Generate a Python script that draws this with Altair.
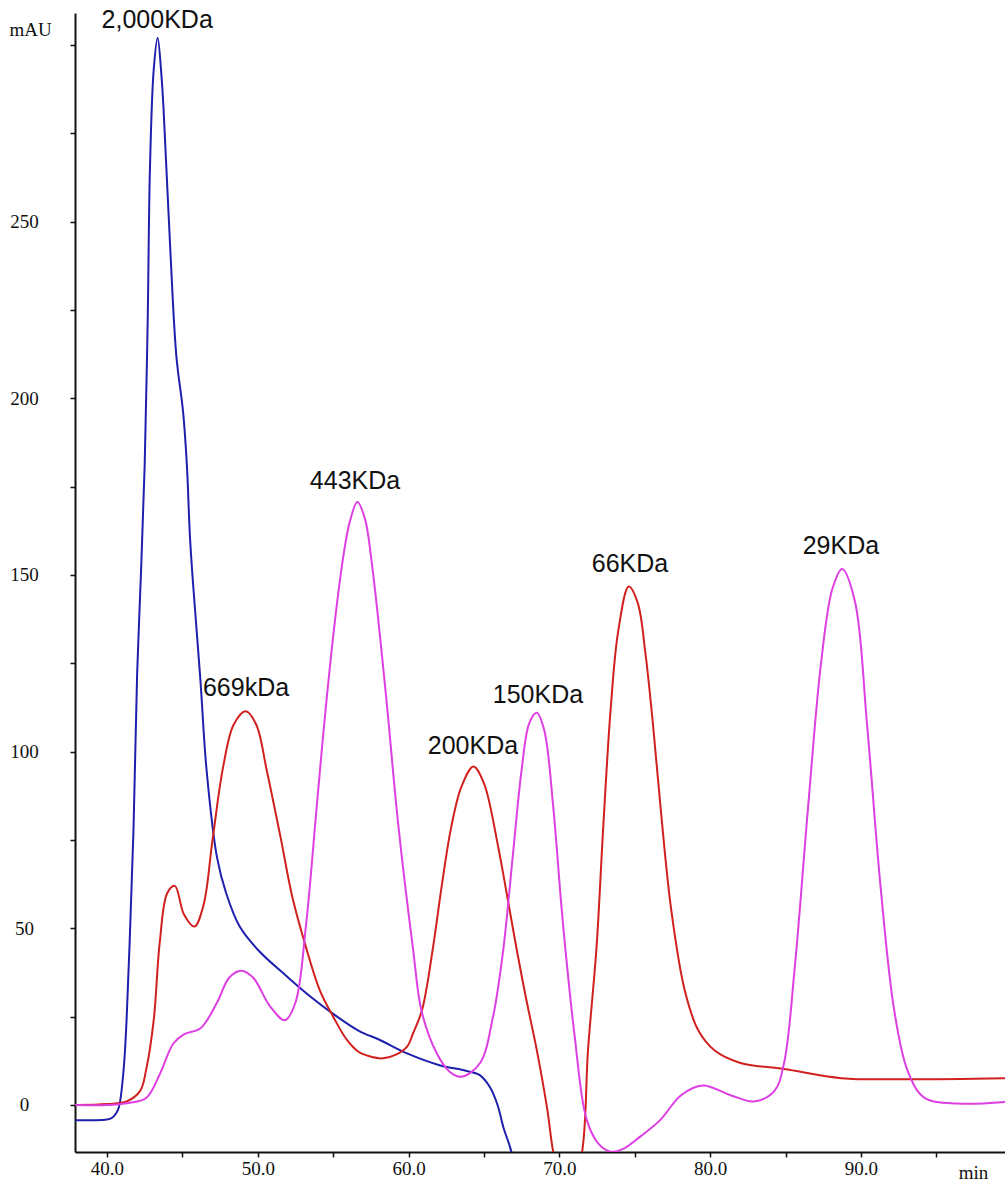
import altair as alt
import pandas as pd

# ---- data ----
blue_t = [37.9, 39.0, 40.0, 40.3, 40.6, 40.8, 41.1, 41.3, 41.5, 41.76, 42.0, 42.25, 42.5, 42.7, 42.85,
          43.1, 43.36, 43.6, 43.75, 44.2, 44.6, 45.05, 45.3, 45.5, 45.7, 46.2, 46.6, 47.3, 47.9, 48.8,
          50.1, 51.9, 53.4, 55.0, 56.7, 58.1, 59.9, 62.1, 63.8, 64.7, 65.4, 65.9, 66.3, 66.8, 67.3]
blue_v = [-4.3, -4.3, -4.1, -3.7, -2.4, -0.5, 9.8, 24, 45.6, 78, 122, 150, 181, 222, 265,
          293, 302, 292, 282, 242, 212, 196, 181, 161, 148, 120, 95, 70, 60, 50.5,
          43.5, 36.5, 31.0, 25.8, 21, 18.4, 14.6, 11.2, 9.7, 8.5, 5, 0, -6.5, -13, -25]

red_t = [37.9, 40.0, 41.3, 42.2, 42.6, 43.1, 43.5, 44.0, 44.5, 45.1, 45.8, 46.4, 47.0, 47.7, 48.4,
         49.2, 49.9, 50.6, 51.5, 52.3, 53.2, 54.1, 55.0, 55.9, 56.7, 57.4, 58.3, 59.2, 59.9, 60.3,
         60.9, 61.6, 62.2, 62.8, 63.5, 64.3, 65.0, 65.9, 66.5, 67.17, 67.8, 68.5, 69.2, 69.6, 70.5,
         71.5, 71.9, 72.47, 72.9, 73.4, 73.9, 74.6, 75.2, 75.7, 76.2, 76.7, 77.4, 78.3, 79.2, 80.3,
         82.0, 84.9, 88.7, 93.1, 99.6]
red_v = [0, 0.3, 1, 4, 10, 24, 46, 60, 62, 54, 50.5, 56.5, 75, 95.6, 107.6,
         111.4, 107.6, 94.6, 76, 58.7, 44.6, 32.6, 25, 18.5, 15, 13.8, 13.2, 14.3, 16.5, 20.3,
         27, 44, 62, 78, 90, 95.8, 91, 74, 60, 44, 30, 15.6, -1.3, -13.5, -30,
         -13.5, 15.6, 45, 78, 112, 134, 146.7, 142, 128, 108, 84.7, 55.8, 32.7, 21.2, 15.4,
         11.9, 10.2, 7.6, 7.3, 7.6]

mag_t = [37.9, 40.0, 41.3, 42.6, 43.5, 44.4, 45.1, 46.2, 47.3, 48.1, 48.9, 49.7, 50.8, 51.8, 52.5,
         53.2, 53.9, 54.5, 55.2, 55.7, 56.1, 56.6, 57.1, 57.6, 58.5, 59.3, 60.3, 60.87, 61.86, 62.7,
         63.5, 64.73, 65.6, 66.28, 66.9, 67.5, 68.0, 68.5, 69.0, 69.6, 70.1, 70.4, 71.0, 71.8, 72.6,
         73.4, 74.2, 75.4, 76.7, 78.05, 79.5, 81.4, 82.9, 84.25, 84.9, 85.6, 86.5, 87.35, 88.1, 88.75,
         89.6, 90.4, 91.3, 92.2, 93.1, 94.2, 96.4, 99.6]
mag_v = [0, 0, 0.5, 2, 8.7, 17.4, 20, 21.7, 29, 36, 38, 36, 28, 24, 29,
         51, 84, 112, 140, 156, 165, 170.6, 166, 152, 116, 80, 44, 26.4, 14.7, 9.5,
         8, 11.8, 25, 44, 70, 95, 108, 111, 106, 84, 58, 44, 20, -4, -11,
         -13.2, -12.5, -8.8, -4.2, 2.7, 5.5, 2.7, 1, 3.9, 11.9, 38.5, 84.7, 125, 146, 151.7,
         142.5, 107.8, 61.7, 26.9, 9.6, 2.1, 0.4, 0.9]

label_text = ["2,000KDa", "669kDa", "443KDa", "200KDa", "150KDa", "66KDa", "29KDa"]
label_t = [43.33, 49.22, 56.45, 64.27, 68.58, 74.68, 88.67]
label_v = [307, 118, 176.6, 101.6, 116, 153.1, 158.2]

series_names = ["2,000KDa", "standards A", "standards B"]
series_colors = ["#1f1fae", "#d0211f", "#de3fe2"]

rows = []
for name, ts, vs in [(series_names[0], blue_t, blue_v),
                     (series_names[1], red_t, red_v),
                     (series_names[2], mag_t, mag_v)]:
    for i, (t, v) in enumerate(zip(ts, vs)):
        rows.append({"series": name, "t": t, "v": v, "order": i})
df = pd.DataFrame(rows)
labels = pd.DataFrame({"text": label_text, "t": label_t, "v": label_v})

x_scale = alt.Scale(domain=[37.88, 99.55], nice=False, zero=False)
y_scale = alt.Scale(domain=[-13.3, 309], nice=False, zero=False)

x_axis = alt.Axis(
    values=list(range(40, 100, 5)),
    labelExpr="datum.value % 10 == 0 ? format(datum.value, '.1f') : ''",
    title="min", titleX=898, titleY=20, titleAlign="center", titleBaseline="middle",
    titleFont="Liberation Serif", titleFontSize=19, titleFontWeight="normal", titleColor="#111",
    labelFont="Liberation Serif", labelFontSize=19, labelColor="#111", labelPadding=2,
    tickSize=5, tickWidth=1.5, tickColor="#111", domainColor="#111", domainWidth=2,
    grid=False, labelFlush=False, labelOverlap=False,
)
y_axis = alt.Axis(
    values=list(range(0, 325, 25)),
    labelExpr="datum.value % 50 == 0 && datum.value < 300 ? datum.value : ''",
    title="mAU", titleAngle=0, titleX=-45, titleY=16, titleAlign="center", titleBaseline="middle",
    titleFont="Liberation Serif", titleFontSize=19, titleFontWeight="normal", titleColor="#111",
    labelFont="Liberation Serif", labelFontSize=19, labelColor="#111", labelAlign="center",
    labelBaseline="middle", labelPadding=46,
    tickSize=5, tickWidth=1.5, tickColor="#111", domainColor="#111", domainWidth=2,
    grid=False, labelFlush=False, labelOverlap=False,
)

lines = alt.Chart(df).mark_line(clip=True, strokeWidth=2, interpolate="catmull-rom").encode(
    x=alt.X("t:Q", scale=x_scale, axis=x_axis),
    y=alt.Y("v:Q", scale=y_scale, axis=y_axis),
    color=alt.Color("series:N", scale=alt.Scale(domain=series_names, range=series_colors), legend=None),
    order="order:Q",
    detail="series:N",
)

texts = alt.Chart(labels).mark_text(
    font="Liberation Sans", fontSize=25, color="#111", align="center", baseline="middle"
).encode(
    x=alt.X("t:Q", scale=x_scale),
    y=alt.Y("v:Q", scale=y_scale),
    text="text:N",
)

chart = alt.layer(lines, texts).properties(
    width=930, height=1139,
    autosize=alt.AutoSizeParams(type="none"),
    padding={"left": 75, "top": 13, "right": 0, "bottom": 29},
    background="white",
).configure_view(stroke=None)

chart.save("out.html", embed_options={"renderer": "svg", "actions": False})
